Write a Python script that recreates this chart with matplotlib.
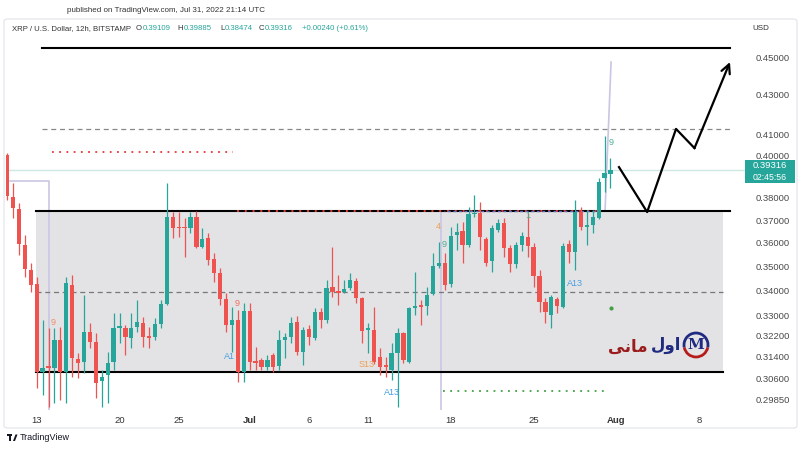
import matplotlib
matplotlib.use('Agg')
import matplotlib.pyplot as plt
import matplotlib.dates as mdates
import matplotlib.patches as mpatches
import numpy as np
import pandas as pd

# 12h XRP/USD candles, Jun 10 12:00 -> Jul 31 12:00
opens = [0.4001, 0.3804, 0.3749, 0.3591, 0.3485, 0.3427, 0.3084, 0.3102, 0.3099, 0.3204,
         0.3084, 0.3423, 0.3132, 0.3121, 0.3235, 0.3197, 0.3050, 0.3072, 0.3121, 0.3251,
         0.3251, 0.3212, 0.3255, 0.3270, 0.3220, 0.3216, 0.3266, 0.3345, 0.3714, 0.3669,
         0.3669, 0.3665, 0.3714, 0.3582, 0.3621, 0.3531, 0.3472, 0.3365, 0.3262, 0.3282,
         0.3084, 0.3317, 0.3125, 0.3128, 0.3102, 0.3147, 0.3106, 0.3204, 0.3216, 0.3274,
         0.3159, 0.3247, 0.3212, 0.3313, 0.3282, 0.3414, 0.3398, 0.3394, 0.3410, 0.3439,
         0.3369, 0.3243, 0.3243, 0.3140, 0.3106, 0.3091, 0.3155, 0.3231, 0.3121, 0.3329,
         0.3341, 0.3337, 0.3386, 0.3502, 0.3514, 0.3427, 0.3634, 0.3652, 0.3591, 0.3727,
         0.3732, 0.3617, 0.3523, 0.3656, 0.3687, 0.3578, 0.3510, 0.3591, 0.3625, 0.3582,
         0.3460, 0.3353, 0.3301, 0.3365, 0.3333, 0.3595, 0.3561, 0.3736, 0.3669, 0.3678,
         0.3709, 0.3891, 0.39109]
highs = [0.4011, 0.3868, 0.3776, 0.3634, 0.3514, 0.3456, 0.3282, 0.3251, 0.3251, 0.3255,
         0.3456, 0.3464, 0.3155, 0.3381, 0.3270, 0.3231, 0.3091, 0.3159, 0.3309, 0.3309,
         0.3262, 0.3309, 0.3361, 0.3294, 0.3255, 0.3290, 0.3361, 0.3868, 0.3736, 0.3736,
         0.3709, 0.3736, 0.3741, 0.3665, 0.3643, 0.3557, 0.3493, 0.3390, 0.3333, 0.3321,
         0.3349, 0.3349, 0.3178, 0.3136, 0.3147, 0.3155, 0.3243, 0.3231, 0.3294, 0.3298,
         0.3255, 0.3262, 0.3329, 0.3329, 0.3443, 0.3582, 0.3464, 0.3443, 0.3472, 0.3452,
         0.3373, 0.3270, 0.3333, 0.3174, 0.3140, 0.3193, 0.3251, 0.3235, 0.3333, 0.3477,
         0.3361, 0.3414, 0.3557, 0.3604, 0.3557, 0.3669, 0.3687, 0.3691, 0.3758, 0.3813,
         0.3781, 0.3625, 0.3678, 0.3705, 0.3709, 0.3591, 0.3604, 0.3647, 0.3732, 0.3600,
         0.3485, 0.3369, 0.3381, 0.3373, 0.3600, 0.3612, 0.3790, 0.3758, 0.3745, 0.3745,
         0.3891, 0.4095, 0.39885]
lows = [0.3790, 0.3709, 0.3548, 0.3456, 0.3394, 0.3024, 0.2999, 0.2956, 0.2970, 0.2981,
        0.2970, 0.3065, 0.3061, 0.3080, 0.3174, 0.2988, 0.2956, 0.2970, 0.3091, 0.3193,
        0.3147, 0.3174, 0.3235, 0.3178, 0.3174, 0.3204, 0.3251, 0.3341, 0.3621, 0.3625,
        0.3540, 0.3643, 0.3578, 0.3578, 0.3506, 0.3435, 0.3341, 0.3235, 0.3159, 0.3046,
        0.3046, 0.3091, 0.3091, 0.3091, 0.3091, 0.3084, 0.3091, 0.3136, 0.3193, 0.3147,
        0.3110, 0.3186, 0.3204, 0.3251, 0.3270, 0.3373, 0.3341, 0.3390, 0.3402, 0.3349,
        0.3193, 0.3155, 0.3113, 0.3072, 0.3065, 0.3054, 0.2956, 0.3117, 0.3117, 0.3301,
        0.3262, 0.3301, 0.3381, 0.3493, 0.3402, 0.3414, 0.3569, 0.3514, 0.3582, 0.3714,
        0.3569, 0.3502, 0.3477, 0.3647, 0.3540, 0.3477, 0.3493, 0.3565, 0.3540, 0.3414,
        0.3313, 0.3270, 0.3251, 0.3309, 0.3329, 0.3514, 0.3485, 0.3656, 0.3591, 0.3643,
        0.3705, 0.3827, 0.38474]
closes = [0.3808, 0.3754, 0.3595, 0.3489, 0.3423, 0.3084, 0.3099, 0.3099, 0.3204, 0.3084,
          0.3431, 0.3136, 0.3117, 0.3235, 0.3197, 0.3043, 0.3065, 0.3117, 0.3251, 0.3255,
          0.3216, 0.3251, 0.3274, 0.3216, 0.3212, 0.3266, 0.3345, 0.3714, 0.3665, 0.3665,
          0.3665, 0.3714, 0.3582, 0.3617, 0.3527, 0.3472, 0.3365, 0.3262, 0.3282, 0.3084,
          0.3317, 0.3121, 0.3117, 0.3102, 0.3128, 0.3102, 0.3204, 0.3216, 0.3270, 0.3159,
          0.3243, 0.3216, 0.3313, 0.3282, 0.3410, 0.3394, 0.3390, 0.3406, 0.3443, 0.3369,
          0.3239, 0.3247, 0.3121, 0.3102, 0.3102, 0.3155, 0.3231, 0.3128, 0.3329, 0.3337,
          0.3333, 0.3381, 0.3502, 0.3514, 0.3423, 0.3630, 0.3647, 0.3591, 0.3727, 0.3732,
          0.3625, 0.3514, 0.3665, 0.3687, 0.3578, 0.3510, 0.3591, 0.3630, 0.3587, 0.3460,
          0.3353, 0.3313, 0.3373, 0.3337, 0.3587, 0.3561, 0.3736, 0.3669, 0.3678, 0.3714,
          0.3873, 0.3915, 0.39316]

price_ticks = [0.45, 0.43, 0.41, 0.40, 0.38, 0.37, 0.36, 0.35, 0.34, 0.33,
               0.322, 0.314, 0.306, 0.2985]
date_ticks = ['2022-06-13', '2022-06-20', '2022-06-25', '2022-07-01', '2022-07-06',
              '2022-07-11', '2022-07-18', '2022-07-25', '2022-08-01', '2022-08-08']
date_labels = ['13', '20', '25', 'Jul', '6', '11', '18', '25', 'Aug', '8']

# drawn levels
top_level = 0.4549
upper_dash = 0.4127
red_dot_level = 0.4016
range_top = 0.3741
range_mid = 0.3395
range_bot = 0.3084
green_dot_level = 0.3014
last_price = 0.39316
# projected path (day offset from Jun 13, price)
path_days = [49.22, 51.6, 54.04, 55.6, 58.6]
path_prices = [0.3943, 0.3736, 0.4128, 0.4034, 0.4473]

GREEN = '#26a69a'
RED = '#ef5350'
W, H = 800, 450


def fx(px):
    return px / W


def fy(py):
    return 1 - py / H


base = pd.Timestamp('2022-06-13')


def day(d):
    return mdates.date2num(base + pd.Timedelta(days=d))


fig = plt.figure(figsize=(8, 4.5), dpi=100)
fig.patch.set_facecolor('white')
plt.rcParams['font.family'] = ['Liberation Sans', 'DejaVu Sans']

ax = fig.add_axes([fx(6), fy(410), fx(745) - fx(6), fy(38) - fy(410)])
ax.set_yscale('log')
ax.set_ylim(0.2946, 0.4604)
ax.set_xlim(day(-2.595), day(59.87))
for s in ax.spines.values():
    s.set_visible(False)

# range box and levels
ax.fill_between([day(-0.06), day(58.0)], range_bot, range_top, color='#e3e3e5', lw=0, zorder=0)
ax.plot([day(0.45), day(58.6)], [top_level] * 2, color='black', lw=1.5, zorder=2)
ax.plot([day(0.45), day(58.6)], [upper_dash] * 2, color='#888888', lw=0.9, ls=(0, (4, 3)), zorder=2)
ax.plot([day(-0.06), day(58.6)], [range_top] * 2, color='black', lw=1.5, zorder=2)
ax.plot([day(-0.06), day(58.0)], [range_bot] * 2, color='black', lw=1.5, zorder=2)
ax.plot([day(-0.06), day(58.0)], [range_mid] * 2, color='#777777', lw=0.9, ls=(0, (4, 3)), zorder=2)
ax.plot([day(1.29), day(16.6)], [red_dot_level] * 2, color='#e53935', lw=1.3, ls=(0, (1, 3)), zorder=2)
ax.plot([day(16.93), day(47.6)], [range_top] * 2, color='#e53935', lw=1.4, ls=(0, (1, 3)), zorder=3)
ax.plot([day(34.4), day(47.6)], [range_top] * 2, color='#5c6bc0', lw=1.0, ls=(1.5, (2, 2)), zorder=3)
ax.plot([day(34.35), day(48.2)], [green_dot_level] * 2, color='#43a047', lw=1.3, ls=(0, (1, 3)), zorder=2)
ax.plot([day(48.55)], [0.3329], marker='o', ms=2, color='#43a047', zorder=3)
ax.axhline(last_price, color='#cfe7e4', lw=1, zorder=1)

# light vertical markers
lav = '#c9c6e3'
ax.plot([day(-2.26), day(1.04), day(1.04)], [0.3880, 0.3880, 0.2946], color=lav, lw=1.2, zorder=1)
ax.plot([day(34.18), day(34.18)], [0.3741, 0.2946], color=lav, lw=1.2, zorder=1)
ax.plot([day(48.55), day(48.04)], [0.4473, 0.3741], color=lav, lw=1.2, zorder=1)

# candles
x = mdates.date2num(pd.date_range('2022-06-10 12:00', periods=len(opens), freq='12h'))
o = np.array(opens)
c = np.array(closes)
colors = np.where(c >= o, GREEN, RED)
ax.vlines(x, lows, highs, colors=colors, lw=0.9, zorder=4)
bottom = np.minimum(o, c)
height = np.maximum(np.abs(c - o), 0.0006)
ax.bar(x, height, bottom=bottom, width=0.36, color=colors, lw=0, zorder=5)

# signal labels
labels = [(1.38, 0.3274, '9', '#f08a6c'), (16.27, 0.3140, 'A1', '#4a9fe0'),
          (16.94, 0.3349, '9', '#ef6f5a'), (27.92, 0.3110, 'S13', '#f0a050'),
          (30.04, 0.3010, 'A13', '#4a9fe0'), (33.92, 0.3674, '4', '#f0a050'),
          (34.43, 0.3595, '9', '#4caf93'), (41.53, 0.3722, '1', '#4caf93'),
          (45.5, 0.3431, 'A13', '#4a9fe0'), (48.55, 0.4062, '9', '#4caf93')]
for d, p, t, col in labels:
    ax.text(day(d), p, t, color=col, fontsize=6.5, ha='center', va='center', zorder=6)

# projected zigzag
pdays = [day(d) for d in path_days]
ax.plot(pdays[:-1], path_prices[:-1], color='black', lw=1.6, zorder=6)
ax.annotate('', xy=(pdays[-1], path_prices[-1]), xytext=(pdays[-2], path_prices[-2]),
            arrowprops=dict(arrowstyle='->', lw=1.6, color='black', mutation_scale=16,
                            shrinkA=0, shrinkB=0), zorder=6)

# axes ticks
ax.yaxis.tick_right()
ax.set_yticks(price_ticks, ['%.5f' % v for v in price_ticks])
ax.yaxis.set_minor_locator(matplotlib.ticker.NullLocator())
ax.tick_params(axis='y', length=0, pad=8, labelsize=6.8, labelcolor='#4a4a4a')
ax.set_xticks([mdates.date2num(pd.Timestamp(d)) for d in date_ticks], date_labels)
ax.tick_params(axis='x', length=0, pad=4, labelsize=6.8, labelcolor='#333333')
for lbl in ax.get_xticklabels():
    if lbl.get_text() in ('Jul', 'Aug'):
        lbl.set_fontweight('bold')

# last price tag
fig.add_artist(mpatches.Rectangle((fx(745), fy(183)), fx(50), 23 / H, color=GREEN, lw=0))
fig.text(fx(770), fy(166), '0.39316', color='white', fontsize=6.8, ha='center', va='center')
fig.text(fx(770), fy(177), '02:45:56', color='white', fontsize=6.3, ha='center', va='center')

# frame and header
fig.add_artist(mpatches.FancyBboxPatch((fx(4), fy(428)), fx(793), (428 - 19) / H,
                                       boxstyle='round,pad=0,rounding_size=0.005',
                                       fill=False, ec='#e0e3eb', lw=0.8))
fig.text(fx(67), fy(10), 'published on TradingView.com, Jul 31, 2022 21:14 UTC',
         fontsize=5.8, color='#333333', va='center')
fig.text(fx(12.5), fy(29), 'XRP / U.S. Dollar, 12h, BITSTAMP', fontsize=5.6, color='#333333', va='center')
ohlc_text = [(142.5, 'O', '0.39109'), (184, 'H', '0.39885'), (225, 'L', '0.38474'),
             (265, 'C', '0.39316')]
for px, letter, val in ohlc_text:
    fig.text(fx(px - 0.5), fy(29), letter, fontsize=5.6, color='#333333', va='center', ha='right')
    fig.text(fx(px), fy(29), val, fontsize=5.6, color=GREEN, va='center')
fig.text(fx(302), fy(29), '+0.00240 (+0.61%)', fontsize=5.6, color=GREEN, va='center')
fig.text(fx(752), fy(28), 'USD', fontsize=5.8, color='#333333', va='center')

# TradingView footer
fig.add_artist(mpatches.Rectangle((fx(7), fy(436)), fx(5), 1.6 / H, color='#131722', lw=0))
fig.add_artist(mpatches.Rectangle((fx(9), fy(441)), fx(1.6), 5 / H, color='#131722', lw=0))
fig.add_artist(mpatches.Polygon([(fx(13), fy(441)), (fx(15.5), fy(434.5)), (fx(17.5), fy(434.5)),
                                 (fx(15), fy(441))], closed=True, color='#131722', lw=0))
fig.text(fx(20), fy(438), 'TradingView', fontsize=6.5, color='#131722', va='center')

# watermark logo
fig.text(fx(648), fy(347), '\ufbfd\ufee7\ufe8e\ufee3', fontsize=12, fontweight='bold',
         color='#9b1c1c', ha='right', va='center', family=['DejaVu Sans'])
fig.text(fx(651), fy(345), '\ufedd\ufeed\ufe8d', fontsize=12, fontweight='bold',
         color='#1f2a80', ha='left', va='center', family=['DejaVu Sans'])
fig.add_artist(mpatches.Arc((fx(696), fy(345)), 24 / W, 24 / H, theta1=-20, theta2=200,
                            color='#1f2a80', lw=2))
fig.add_artist(mpatches.Arc((fx(696), fy(345)), 24 / W, 24 / H, theta1=200, theta2=340,
                            color='#b71c1c', lw=2))
fig.text(fx(696), fy(345), 'M', fontsize=11, fontweight='bold', color='#1f2a80',
         ha='center', va='center', family=['DejaVu Serif'])

fig.savefig('out.png', dpi=100)
